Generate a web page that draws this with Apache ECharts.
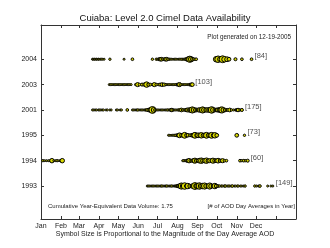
<!DOCTYPE html>
<html>
<head>
<meta charset="utf-8">
<script src="https://cdn.jsdelivr.net/npm/echarts@6/dist/echarts.min.js"></script>
<style>
  html, body { margin: 0; padding: 0; background: #fff; }
  #chart { width: 330px; height: 248px; }
</style>
</head>
<body>
<div id="chart"></div>
<script>
// rows from bottom to top
var years = ["1993", "1994", "1995", "2001", "2003", "2004"];
var counts = [149, 60, 73, 175, 103, 84];
var monthNames = ["Jan", "Feb", "Mar", "Apr", "May", "Jun", "Jul", "Aug", "Sep", "Oct", "Nov", "Dec"];
var monthStarts = [0, 31, 59, 90, 120, 151, 181, 212, 243, 273, 304, 334];
var tickDays = [31, 59, 90, 120, 151, 181, 212, 243, 273, 304, 334, 365];

// [day of year, day average AOD]
var d1993 = [[165,.1],[167,.1],[169,.1],[171,.1],[173,.1],[175,.1],[177,.1],[179,.1],[181,.1],[183,.1],[185,.1],[187,.15],[189,.1],[191,.1],[193,.1],[195,.15],[197,.1],[199,.1],[201,.1],[203,.15],[205,.1],[207,.1],[209,.15],
  [211,.2],[213,.3],[216,.5],[218,.7],[220,.5],[223,.75],[226,.4],[228,.6],[231,.35],[234,.3],[236,.5],[239,.8],[241,.5],[243,.6],[246,.75],[248,.5],[251,.6],[254,.7],[256,.4],[259,.3],[262,.7],[264,.45],[267,.3],[270,.6],[272,.3],[275,.2],[277,.15],[280,.15],[282,.1],[285,.2],[287,.15],[290,.1],[292,.15],[295,.1],[297,.2],[300,.1],[302,.1],[305,.15],[307,.1],[310,.1],[312,.1],[315,.1],[317,.15],
  [332,.15],[335,.1],[338,.1],[340,.2],[352,.1],[357,.1],[360,.1]];
var d1994 = [[3,.15],[6,.1],[9,.1],[12,.1],[15,.2],[17,.45],[20,.1],[23,.1],[25,.15],[28,.1],[31,.2],[33,.45],
  [220,.1],[222,.15],[224,.1],[226,.2],[228,.3],[230,.45],[232,.2],[235,.3],[237,.4],[239,.55],[241,.3],[244,.35],[246,.5],[249,.6],[251,.4],[254,.45],[257,.6],[259,.3],[262,.4],[265,.3],[267,.55],[270,.4],[272,.3],[275,.5],[278,.3],[280,.2],[282,.4],[285,.2],[288,.2],
  [309,.2],[312,.15],[315,.2],[318,.15],[321,.25]];
var d1995 = [[198,.1],[200,.1],[202,.1],[204,.1],[206,.1],[208,.15],[210,.2],[213,.3],[215,.5],[218,.3],[221,.4],[223,.65],[226,.35],[228,.3],[231,.2],[234,.3],[237,.45],[239,.65],[242,.4],[244,.5],[247,.45],[249,.6],[252,.4],[255,.5],[257,.65],[260,.4],[263,.5],[265,.65],[268,.45],[270,.6],[273,.35],
  [304,.35],[316,.15]];
var d2001 = [[80,.1],[82,.1],[84,.1],[86,.1],[89,.1],[91,.1],[93,.1],[95,.1],[97,.1],[101,.1],[103,.1],[107,.1],[109,.1],[117,.1],[119,.1],[123,.1],[125,.1],[134,.2],
  [142,.1],[144,.1],[146,.1],[148,.1],[150,.15],[152,.1],[154,.1],[156,.1],[158,.1],[160,.1],[162,.15],[164,.2],[167,.3],[170,.5],[173,.8],[175,.5],[177,.2],[179,.1],[181,.1],[183,.1],[185,.1],[187,.1],[189,.1],[191,.1],[193,.1],[195,.1],[197,.15],[199,.1],[201,.2],[203,.3],[205,.15],[207,.1],[209,.1],[211,.1],[213,.15],[215,.2],[218,.35],[220,.2],[222,.15],[224,.2],[226,.3],[228,.4],[231,.45],[233,.5],[235,.7],[237,.5],[240,.4],[242,.3],[244,.35],[246,.45],[249,.5],[251,.7],[253,.5],[256,.4],[258,.45],[261,.5],[263,.55],[265,.75],[267,.5],[270,.35],[272,.3],[274,.4],[277,.5],[279,.6],[281,.7],[283,.45],[286,.3],[288,.2],[290,.25],[293,.35],[296,.15],[299,.1],[302,.15],[304,.2],[306,.3],[309,.15],[312,.25]];
var d2003 = [[106,.1],[108,.1],[110,.1],[112,.1],[114,.1],[116,.1],[118,.1],[120,.1],[122,.1],[124,.1],[126,.1],[128,.1],[130,.1],[132,.1],[134,.1],[136,.1],[138,.1],[140,.1],
  [147,.15],[150,.4],[153,.2],[157,.25],[161,.35],[164,.6],[167,.3],[170,.2],[173,.15],[176,.4],[179,.2],[182,.15],[185,.25],[188,.35],[191,.3],[194,.15],[196,.1],[198,.1],[200,.1],[202,.1],[204,.1],[206,.1],[208,.1],[210,.15],[213,.3],[215,.4],[217,.2],[219,.1],[221,.1],[223,.1],[225,.1],[227,.1],[229,.1],[231,.15],[233,.3],[235,.35]];
var d2004 = [[80,.1],[81,.1],[83,.1],[84,.1],[86,.1],[87,.1],[89,.1],[90,.1],[92,.1],[94,.1],[96,.1],[98,.1],[107,.15],[129,.1],[142,.2],
  [173,.15],[179,.15],[181,.1],[183,.2],[185,.3],[187,.35],[189,.2],[191,.15],[193,.3],[195,.35],[197,.2],[199,.15],[201,.1],[203,.1],[205,.1],[207,.1],[209,.1],[211,.1],[213,.1],[215,.1],[217,.1],[219,.15],[221,.1],[223,.15],[225,.2],[227,.4],[229,.5],[231,.7],[233,.55],[235,.3],[237,.2],[239,.15],[241,.2],
  [272,.6],[275,.75],[278,.5],[282,.8],[285,.6],[289,.5],[292,.35],[302,.25],[312,.2],[327,.2]];

var rows = [d1993, d1994, d1995, d2001, d2003, d2004];
var font = "Liberation Sans";

var points = [], ends = [];
rows.forEach(function (r, i) {
  r.forEach(function (p) { points.push([p[0], i + 1, p[1]]); });
  ends.push([Math.max.apply(null, r.map(function (p) { return p[0]; })), i + 1, counts[i]]);
});

var rowVals = years.map(function (y, i) { return i + 1; });
var axisLine = { show: true, onZero: false, lineStyle: { color: "#333", width: 1 } };

var chart = echarts.init(document.getElementById("chart"));
chart.setOption({
  animation: false,
  title: {
    text: "Cuiaba: Level 2.0 Cimel Data Availability",
    left: "center", top: 8,
    textStyle: { fontFamily: font, fontSize: 9.5, fontWeight: "normal", color: "#111" }
  },
  grid: { left: 41, top: 25, width: 255, height: 194 },
  xAxis: [{
    type: "value", min: 0, max: 396, position: "bottom",
    axisLine: axisLine, splitLine: { show: false },
    axisTick: { inside: true, length: 3, customValues: tickDays, lineStyle: { color: "#333" } },
    axisLabel: {
      customValues: monthStarts, margin: 4, fontFamily: font, fontSize: 7, color: "#222",
      formatter: function (v) { return monthNames[monthStarts.indexOf(v)]; }
    }
  }, {
    type: "value", min: 0, max: 396, position: "top",
    axisLine: axisLine, splitLine: { show: false },
    axisTick: { inside: true, length: 3, customValues: tickDays, lineStyle: { color: "#333" } },
    axisLabel: { show: false }
  }],
  yAxis: [{
    type: "value", min: -0.3, max: 7.35, position: "left",
    axisLine: axisLine, splitLine: { show: false },
    axisTick: { inside: true, length: 3, customValues: rowVals, lineStyle: { color: "#333" } },
    axisLabel: {
      customValues: rowVals, margin: 4, fontFamily: font, fontSize: 7, color: "#222",
      formatter: function (v) { return years[v - 1]; }
    }
  }, {
    type: "value", min: -0.3, max: 7.35, position: "right",
    axisLine: axisLine, splitLine: { show: false },
    axisTick: { inside: true, length: 3, customValues: rowVals, lineStyle: { color: "#333" } },
    axisLabel: { show: false }
  }],
  graphic: [
    { type: "text", right: 39, top: 34, style: { text: "Plot generated on 12-19-2005", font: "6.3px " + font, fill: "#222" } },
    { type: "text", left: 48, top: 203, style: { text: "Cumulative Year-Equivalent Data Volume: 1.75", font: "6px " + font, fill: "#222" } },
    { type: "text", right: 35, top: 203, style: { text: "[# of AOD Day Averages in Year]", font: "6px " + font, fill: "#222" } },
    { type: "text", left: "center", top: 231, style: { text: "Symbol Size is Proportional to the Magnitude of the Day Average AOD", font: "7px " + font, fill: "#222" } }
  ],
  series: [{
    type: "scatter",
    data: points,
    symbolSize: function (v) { return 1.3 + v[2] * 7; },
    itemStyle: { color: "#d8d800", borderColor: "#000", borderWidth: 1, opacity: 1 },
    emphasis: { disabled: true }
  }, {
    type: "scatter",
    data: ends,
    symbolSize: 0,
    label: {
      show: true, position: "right", distance: 3, offset: [0, -3],
      fontFamily: font, fontSize: 7.5, color: "#222",
      formatter: function (p) { return "[" + p.value[2] + "]"; }
    },
    emphasis: { disabled: true }
  }]
});
</script>
</body>
</html>
